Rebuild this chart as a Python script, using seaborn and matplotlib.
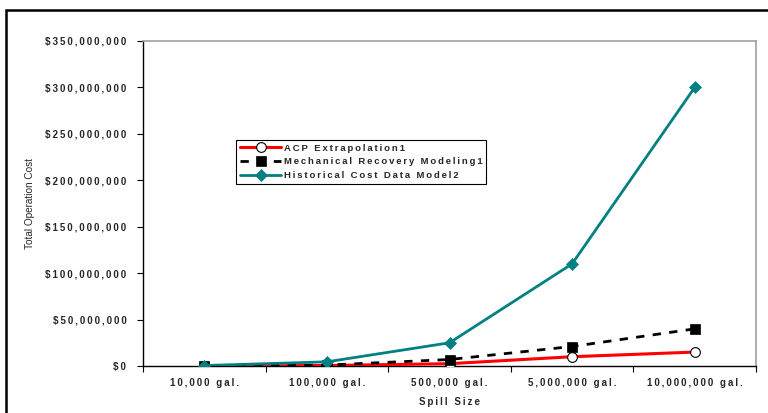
import numpy as np
import pandas as pd
import matplotlib
matplotlib.use("Agg")
import matplotlib.pyplot as plt
import matplotlib.ticker as mticker
from matplotlib.patches import Rectangle
import seaborn as sns

# Spill-size categories and total operation cost estimates (USD)
spill_sizes = ["10,000 gal.", "100,000 gal.", "500,000 gal.", "5,000,000 gal.", "10,000,000 gal."]
acp_extrapolation = [100_000, 500_000, 2_500_000, 10_000_000, 15_000_000]
mechanical_recovery = [200_000, 1_000_000, 7_000_000, 21_000_000, 40_000_000]
historical_cost = [500_000, 4_500_000, 25_000_000, 110_000_000, 300_000_000]
series_names = ["ACP Extrapolation1", "Mechanical Recovery Modeling1", "Historical Cost Data Model2"]
y_ticks = [0, 50_000_000, 100_000_000, 150_000_000, 200_000_000, 250_000_000, 300_000_000, 350_000_000]

sns.set_style("white")
plt.rcParams["font.family"] = ["Liberation Sans", "DejaVu Sans"]


def spaced(text):
    """Widen the tracking of a label with thin spaces between glyphs."""
    return "\u2009".join(text)


df = pd.DataFrame({
    "pos": np.tile(np.arange(len(spill_sizes)), 3),
    "cost": acp_extrapolation + mechanical_recovery + historical_cost,
    "series": np.repeat(series_names, len(spill_sizes)),
})

fig = plt.figure(figsize=(7.68, 4.13), dpi=100)
ax = fig.add_axes([143 / 768, 1 - 366 / 413, (756 - 143) / 768, (366 - 41) / 413])

styles = {
    series_names[0]: dict(color="#ff0000", lw=2.2, ls="-", marker="o", ms=7,
                          mfc="white", mec="black", mew=0.8),
    series_names[1]: dict(color="black", lw=2.0, ls=(0, (3, 3)), marker="s", ms=7,
                          mfc="black", mec="black", mew=0.5),
    series_names[2]: dict(color="#008080", lw=2.0, ls="-", marker="D", ms=6,
                          mfc="#008080", mec="#008080", mew=0.5),
}

for name in series_names:
    st = styles[name]
    sub = df[df["series"] == name]
    sns.lineplot(data=sub, x="pos", y="cost", ax=ax, label=spaced(name),
                 color=st["color"], linewidth=st["lw"], linestyle=st["ls"],
                 marker=st["marker"], markersize=st["ms"],
                 markerfacecolor=st["mfc"], markeredgecolor=st["mec"],
                 markeredgewidth=st["mew"], zorder=3)

ax.set_xlim(-0.5, len(spill_sizes) - 0.5)
ax.set_ylim(0, 350_000_000)
ax.set_xticks(np.arange(-0.5, len(spill_sizes)))
ax.set_xticklabels([])
ax.set_xticks(np.arange(len(spill_sizes)), minor=True)
ax.set_xticklabels([spaced(s) for s in spill_sizes], minor=True)
ax.tick_params(axis="x", which="major", direction="out", length=4, width=0.8, color="black", bottom=True)
ax.tick_params(axis="x", which="minor", length=0, pad=9, labelsize=7)
ax.set_yticks(y_ticks)
ax.yaxis.set_major_formatter(mticker.FuncFormatter(lambda v, p: spaced(f"${v:,.0f}")))
ax.tick_params(axis="y", direction="out", length=4, width=0.8, color="black", left=True, labelsize=7, pad=8)
for lbl in ax.get_xticklabels(minor=True) + ax.get_yticklabels():
    lbl.set_fontweight("bold")

for side in ("left", "bottom"):
    ax.spines[side].set_color("black")
    ax.spines[side].set_linewidth(1.0)
for side in ("top", "right"):
    ax.spines[side].set_visible(True)
    ax.spines[side].set_color("#a0a0a0")
    ax.spines[side].set_linewidth(1.2)

ax.set_xlabel(spaced("Spill Size"), fontsize=7, fontweight="bold", labelpad=6)
ax.set_ylabel("Total Operation Cost", fontsize=7.2, fontweight="normal", labelpad=7)

leg = ax.legend(loc="upper left", bbox_to_anchor=(93 / 613, 226 / 325), fontsize=6.8,
                frameon=True, fancybox=False, edgecolor="black", framealpha=1,
                handlelength=4.4, handletextpad=0.25, borderpad=0.4, labelspacing=0.5,
                borderaxespad=0)
leg.get_frame().set_linewidth(0.8)
for t in leg.get_texts():
    t.set_fontweight("bold")

# outer border around the chart area
fig.patches.append(Rectangle((6 / 768, -0.5), 2.0, 0.5 + (1 - 10 / 413),
                             transform=fig.transFigure, fill=False,
                             edgecolor="black", linewidth=1.8, clip_on=False))

fig.savefig("out.png", dpi=100)
